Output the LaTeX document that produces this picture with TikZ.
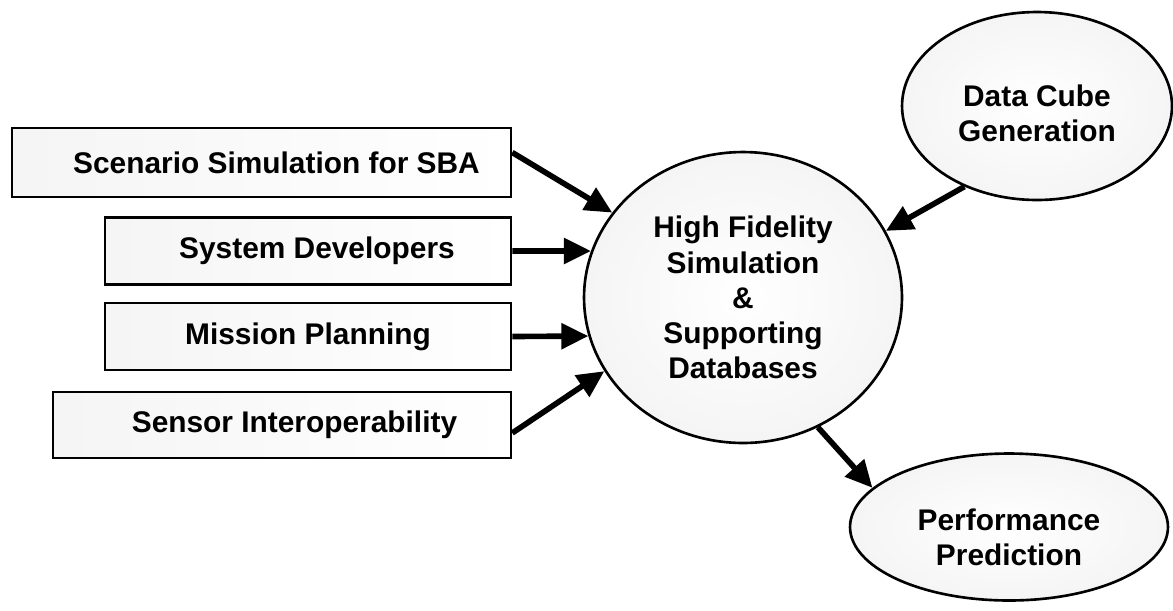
\documentclass[tikz,border=0pt]{standalone}
\usepackage{fontspec}
\setmainfont{Liberation Sans}
\usepackage{xcolor}
\usetikzlibrary{arrows.meta,shapes.geometric}

\begin{document}
\begin{tikzpicture}[x=0.02cm, y=-0.02cm,
  every node/.style={font=\fontsize{17}{20}\selectfont\bfseries, align=center, line width=1.5pt, draw},
  srcbox/.style={rectangle, inner sep=0pt, minimum height=1.34cm, left color=black!4, right color=white},
  bubble/.style={ellipse, inner sep=0pt, inner color=white, outer color=black!4},
  feed/.style={line width=3.2pt, -{Triangle[length=0.54cm,width=0.5cm]}}]
\useasboundingbox[fill=white] (0,0) rectangle (1173,610);

% inputs on the left
\node[srcbox, minimum width=9.98cm, minimum height=1.38cm] (sba) at (261.5,162.5) {\hspace*{0.6cm}Scenario Simulation for SBA};
\node[srcbox, minimum width=8.12cm] (dev) at (308,251) {\hspace*{0.36cm}System Developers};
\node[srcbox, minimum width=8.12cm] (mis) at (308,336.5) {Mission Planning};
\node[srcbox, minimum width=9.16cm, minimum height=1.32cm] (sen) at (282,425) {\hspace*{0.5cm}Sensor Interoperability};

% central simulation and the two outer ellipses
\node[bubble, minimum width=6.36cm, minimum height=5.82cm] (hfs) at (743,297.5) {High Fidelity\\Simulation\\\&\\Supporting\\Databases};
\node[bubble, minimum width=5.4cm, minimum height=3.76cm] (cube) at (1037,106) {\rule{0pt}{0.72cm}Data Cube\\Generation};
\node[bubble, minimum width=6.36cm, minimum height=2.94cm] (perf) at (1009,527) {\rule{0pt}{0.84cm}Performance\\Prediction};

\draw[feed] ([yshift=0.2cm]sba.east) -- (hfs.147);
\draw[feed] (dev.east) -- (hfs.163);
\draw[feed] (mis.east) -- (hfs.194);
\draw[feed] ([yshift=-0.16cm]sen.east) -- (hfs.208);
\draw[feed] (cube.228) -- (hfs.25);
\draw[feed] (hfs.300) -- (perf.164);
\end{tikzpicture}
\end{document}
